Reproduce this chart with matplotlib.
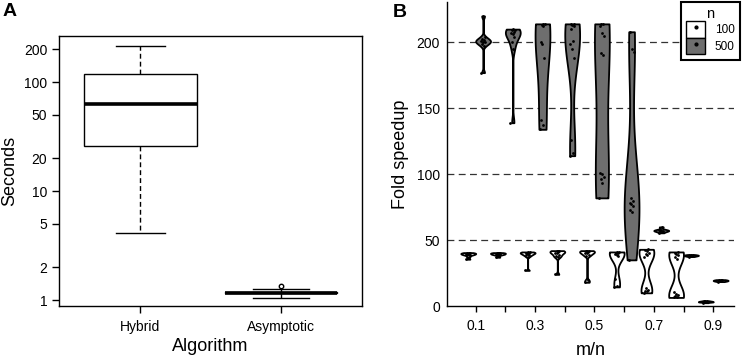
import numpy as np
import matplotlib
matplotlib.use("Agg")
import matplotlib.pyplot as plt
from matplotlib.patches import Patch
from matplotlib.lines import Line2D
from matplotlib.legend_handler import HandlerTuple
from matplotlib.ticker import NullLocator

plt.rcParams['font.family'] = ['Liberation Sans', 'DejaVu Sans']

# ---------------- data: panel A ----------------
algorithms = ["Hybrid", "Asymptotic"]
box_whislo = [4.1, 1.05]
box_q1 = [26.1, 1.155]
box_med = [62.8, 1.167]
box_q3 = [119.0, 1.18]
box_whishi = [214.0, 1.26]
box_fliers = [[], [1.34]]
seconds_ticks = [1, 2, 5, 10, 20, 50, 100, 200]

# ---------------- data: panel B ----------------
mn_values = ["0.1", "0.2", "0.3", "0.4", "0.5", "0.6", "0.7", "0.8", "0.9"]
mn_tick_labels = ["0.1", "", "0.3", "", "0.5", "", "0.7", "", "0.9"]
n_levels = ["100", "500"]
speedup_ticks = [0, 50, 100, 150, 200]

speedup_n100 = [
    [35.5, 37.5, 38.5, 39.0, 39.2, 39.5, 39.8, 40.0, 40.2, 40.5],
    [37.0, 38.5, 39.0, 39.2, 39.5, 39.6, 40.0, 40.0, 40.3, 40.5],
    [27.0, 37.5, 38.5, 39.0, 39.5, 40.0, 40.2, 40.5, 41.0, 41.0],
    [24.0, 37.0, 38.0, 39.0, 40.0, 40.5, 41.0, 41.5, 42.0, 42.0],
    [18.0, 19.5, 38.0, 39.0, 40.0, 40.5, 41.0, 41.5, 42.0, 42.0],
    [14.5, 15.5, 20.5, 38.0, 39.0, 39.5, 40.0, 40.5, 41.0, 41.0],
    [10.0, 11.0, 11.5, 12.5, 14.0, 37.0, 38.5, 39.5, 40.5, 41.5, 42.5, 43.0],
    [6.5, 7.0, 7.5, 8.0, 9.0, 10.5, 36.0, 37.5, 38.5, 39.5, 40.5, 41.0],
    [2.5, 3.0, 3.0, 3.2, 3.4, 3.5, 3.7, 4.0],
]
speedup_n500 = [
    [177.0, 197.5, 199.0, 200.0, 200.5, 201.0, 201.5, 202.5, 204.0, 220.0],
    [139.0, 195.0, 200.0, 204.0, 206.0, 207.0, 208.0, 209.0, 209.5, 210.0],
    [134.0, 137.0, 141.0, 188.0, 199.0, 200.0, 212.0, 213.0, 214.0, 214.0],
    [114.0, 116.0, 126.0, 188.0, 195.0, 199.0, 201.0, 210.0, 212.0, 213.0, 214.0, 214.0],
    [82.0, 93.0, 96.0, 98.0, 100.0, 101.0, 190.0, 192.0, 205.0, 207.0, 212.0, 214.0, 214.0],
    [35.0, 71.0, 73.0, 76.0, 77.0, 78.0, 80.0, 82.0, 193.0, 195.0, 208.0],
    [55.5, 56.5, 57.0, 57.2, 57.5, 58.0, 60.0],
    [37.5, 38.0, 38.2, 38.5, 38.6, 39.0],
    [18.5, 19.0, 19.1, 19.5, 19.6, 20.0],
]

GRAY = "#6e6e6e"
BW_ADJUST = {"100": 0.85, "500": 1.35}


def make_nrd0(adjust):
    def nrd0(kde):
        x = np.asarray(kde.dataset)[0]
        sd = np.std(x, ddof=1)
        q75, q25 = np.percentile(x, [75, 25])
        iqr = q75 - q25
        lo = min(sd, iqr / 1.34) if iqr > 0 else sd
        return adjust * 0.9 * lo * len(x) ** -0.2 / sd
    return nrd0


fig = plt.figure(figsize=(7.42, 3.58), dpi=100)
W, H = 742.0, 358.0
axA = fig.add_axes([59 / W, 52 / H, 303.3 / W, 270.3 / H])
axB = fig.add_axes([446.7 / W, 52 / H, 287.3 / W, 304.3 / H])

# ---------------- panel A ----------------
stats = []
for i, name in enumerate(algorithms):
    stats.append(dict(label=name, whislo=box_whislo[i], q1=box_q1[i], med=box_med[i],
                      q3=box_q3[i], whishi=box_whishi[i], fliers=box_fliers[i]))
axA.bxp(stats, positions=[1, 2], widths=0.8, capwidths=[0.35, 0.4], patch_artist=True,
        boxprops=dict(facecolor="white", edgecolor="black", linewidth=1.0),
        medianprops=dict(color="black", linewidth=2.6, solid_capstyle="butt"),
        whiskerprops=dict(color="black", linestyle=(0, (3.5, 2.2)), linewidth=1.0),
        capprops=dict(color="black", linewidth=1.0),
        flierprops=dict(marker="o", markerfacecolor="none", markeredgecolor="black",
                        markersize=3.2, markeredgewidth=1.0))
axA.set_yscale("log")
axA.set_ylim(0.881, 266)
axA.set_xlim(0.42, 2.58)
axA.set_yticks(seconds_ticks)
axA.set_yticklabels([str(t) for t in seconds_ticks])
axA.yaxis.set_minor_locator(NullLocator())
axA.set_xticks([1, 2])
axA.set_xticklabels(algorithms)
axA.tick_params(axis="both", direction="out", length=5, width=1, labelsize=10, colors="black")
axA.tick_params(axis="y", pad=3.5)
axA.tick_params(axis="x", pad=5)
for sp in axA.spines.values():
    sp.set_linewidth(1.0)
axA.set_ylabel("Seconds", fontsize=13)
axA.set_xlabel("Algorithm", fontsize=13)
axA.yaxis.set_label_coords(-0.135, 0.5)
axA.xaxis.set_label_coords(0.5, -0.118)

# ---------------- panel B ----------------
idx = np.arange(len(mn_values))
for data, offset, color, lev in [(speedup_n100, -0.25, "white", "100"),
                                 (speedup_n500, 0.25, GRAY, "500")]:
    pos = idx + offset
    parts = axB.violinplot(data, positions=pos, widths=0.5, showextrema=False,
                           points=400, bw_method=make_nrd0(BW_ADJUST[lev]))
    for b in parts["bodies"]:
        b.set_facecolor(color)
        b.set_edgecolor("black")
        b.set_alpha(1)
        b.set_linewidth(1.3)
        b.set_zorder(2)
    for p, vals in zip(pos, data):
        k = np.arange(len(vals))
        jit = ((k * 0.618) % 1 - 0.5) * 0.16
        axB.plot(p + jit, vals, "o", color="black", ms=2.0, mew=0, zorder=3)

for y in speedup_ticks[1:]:
    axB.axhline(y, color="#333333", lw=0.9, ls=(0, (5.5, 3.5)), zorder=1)

axB.set_xlim(-0.976, 8.70)
axB.set_ylim(0, 230.8)
axB.spines["top"].set_visible(False)
axB.spines["right"].set_visible(False)
axB.spines["left"].set_linewidth(1.0)
axB.spines["bottom"].set_linewidth(1.0)
axB.set_yticks(speedup_ticks)
axB.set_yticklabels([str(t) for t in speedup_ticks])
axB.set_xticks(idx)
axB.set_xticklabels(mn_tick_labels)
axB.tick_params(axis="y", length=0, pad=5, labelsize=10)
axB.tick_params(axis="x", direction="out", length=4, width=1, pad=5, labelsize=10)
axB.set_ylabel("Fold speedup", fontsize=13)
axB.set_xlabel("m/n", fontsize=13)
axB.yaxis.set_label_coords(-0.13, 0.5)
axB.xaxis.set_label_coords(0.5, -0.117)

handles = [
    (Patch(facecolor="white", edgecolor="black", lw=1), Line2D([], [], marker="o", ls="", color="black", ms=2)),
    (Patch(facecolor=GRAY, edgecolor="black", lw=1), Line2D([], [], marker="o", ls="", color="black", ms=2)),
]
leg = axB.legend(handles, n_levels, title="n", loc="upper right",
                 bbox_to_anchor=(740 / W, 356.3 / H), bbox_transform=fig.transFigure,
                 borderaxespad=0, fancybox=False, edgecolor="black", framealpha=1,
                 fontsize=8.5, title_fontsize=10.5, handlelength=1.6, handleheight=1.8,
                 labelspacing=0, handletextpad=0.8, borderpad=0.45,
                 handler_map={tuple: HandlerTuple(ndivide=1, pad=0)})
leg.get_frame().set_linewidth(1.5)
leg.set_zorder(5)

fig.text(3 / W, 1 - 3 / H, "A", fontsize=14, fontweight="bold", va="top", ha="left")
fig.text(392.7 / W, 1 - 4 / H, "B", fontsize=14, fontweight="bold", va="top", ha="left")

fig.savefig("out.png", dpi=100)
